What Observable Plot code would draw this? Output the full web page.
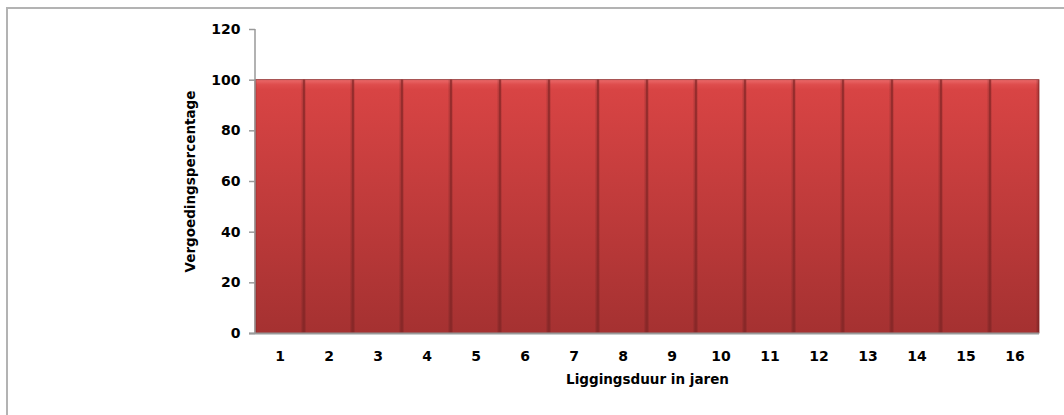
<!DOCTYPE html>
<html>
<head>
<meta charset="utf-8">
<script src="https://cdn.jsdelivr.net/npm/d3@7"></script>
<script src="https://cdn.jsdelivr.net/npm/@observablehq/plot@0.6"></script>
<style>
  html, body { margin: 0; padding: 0; background: #fff; overflow: hidden; width: 1064px; height: 415px; }
  #topline { position: absolute; left: 6px; top: 7px; width: 1058px; height: 2px; background: #b3b3b3; }
  #leftline { position: absolute; left: 6px; top: 7px; width: 2px; height: 408px; background: #b3b3b3; }
  #chart { position: absolute; left: 0; top: 0; width: 1064px; height: 415px; }
  svg text { font-family: "DejaVu Sans", sans-serif; font-weight: bold; }
</style>
</head>
<body>
<div id="topline"></div>
<div id="leftline"></div>
<div id="chart"></div>
<script>
const years = ["1","2","3","4","5","6","7","8","9","10","11","12","13","14","15","16"];
const percentages = [100,100,100,100,100,100,100,100,100,100,100,100,100,100,100,100];
const yTicks = [0,20,40,60,80,100,120];
const xTitle = "Liggingsduur in jaren";
const yTitle = "Vergoedingspercentage";

const data = years.map((y, i) => ({year: y, value: percentages[i]}));

const chart = Plot.plot({
  width: 1064,
  height: 415,
  marginLeft: 255,
  marginRight: 25,
  marginTop: 29,
  marginBottom: 82,
  style: {fontSize: "13px", fontFamily: "DejaVu Sans, sans-serif", fontWeight: "bold", color: "#000", background: "transparent", display: "block"},
  x: {domain: years, padding: 0, label: null},
  y: {domain: [0, 120], label: null},
  marks: [
    () => {
      const s = d3.create("svg:defs");
      const g = s.append("linearGradient").attr("id", "barGrad").attr("x1", 0).attr("y1", 0).attr("x2", 0).attr("y2", 1);
      g.append("stop").attr("offset", "0%").attr("stop-color", "#ea6a6a");
      g.append("stop").attr("offset", "2%").attr("stop-color", "#de4c4c");
      g.append("stop").attr("offset", "4%").attr("stop-color", "#d84444");
      g.append("stop").attr("offset", "100%").attr("stop-color", "#a53131");
      const h = s.append("linearGradient").attr("id", "edgeGrad").attr("x1", 0).attr("y1", 0).attr("x2", 1).attr("y2", 0);
      h.append("stop").attr("offset", "0%").attr("stop-color", "#000").attr("stop-opacity", 0.22);
      h.append("stop").attr("offset", "5%").attr("stop-color", "#000").attr("stop-opacity", 0);
      h.append("stop").attr("offset", "93%").attr("stop-color", "#000").attr("stop-opacity", 0);
      h.append("stop").attr("offset", "100%").attr("stop-color", "#000").attr("stop-opacity", 0.25);
      return s.node();
    },
    Plot.barY(data, {x: "year", y: "value", fill: "url(#barGrad)", inset: 0}),
    Plot.barY(data, {x: "year", y: "value", fill: "url(#edgeGrad)", inset: 0}),
    Plot.barY(data, {x: "year", y: "value", fill: "none", stroke: "#8c2a2a", strokeWidth: 0.8, inset: 0}),
    Plot.ruleY([0], {stroke: "#999", strokeWidth: 2, x1: () => years[0], x2: () => years[years.length-1], insetLeft: -6}),
    (index, scales, values, dimensions) => {
      const y = scales.y;
      const x0 = dimensions.marginLeft;
      const line = d3.create("svg:line")
        .attr("x1", x0).attr("x2", x0)
        .attr("y1", y(yTicks[yTicks.length - 1])).attr("y2", y(yTicks[0]))
        .attr("stroke", "#999").attr("stroke-width", 1.5);
      return line.node();
    },
    Plot.axisY({ticks: yTicks, tickSize: 6, tickPadding: 9, stroke: "#999", strokeWidth: 1.5, strokeOpacity: 1, label: null, fontSize: 14}),
    Plot.axisX({tickSize: 0, tickPadding: 18, label: null, fontSize: 14}),
    Plot.text([xTitle], {frameAnchor: "bottom", dy: 50, fontSize: 13.5, fontWeight: "bold", fill: "#000"}),
    Plot.text([yTitle], {frameAnchor: "left", dx: -65, rotate: -90, textAnchor: "middle", fontSize: 13.5, fontWeight: "bold", fill: "#000"})
  ]
});
document.getElementById("chart").appendChild(chart);
</script>
</body>
</html>
